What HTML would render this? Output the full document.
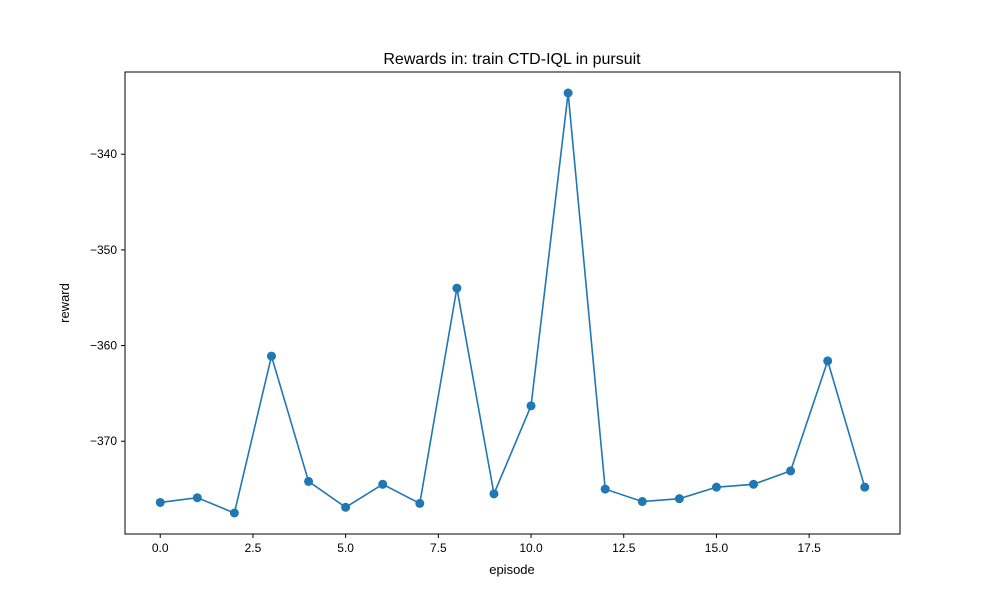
<!DOCTYPE html>
<html><head><meta charset="utf-8"><style>
body{margin:0;background:#fff}
svg text{font-family:"Liberation Sans","DejaVu Sans",sans-serif;fill:#000}
</style></head><body>
<svg id="chart" width="1000" height="600" xmlns="http://www.w3.org/2000/svg">
<rect width="1000" height="600" fill="#fff"/>
<text x="512" y="64" font-size="16" text-anchor="middle">Rewards in: train CTD-IQL in pursuit</text>
<g id="plot"></g>
<rect x="125" y="72" width="775" height="462" fill="none" stroke="#000" stroke-width="1"/>
<text x="512" y="574" font-size="13" text-anchor="middle">episode</text>
<text x="69" y="303" font-size="13" text-anchor="middle" transform="rotate(-90 69 303)">reward</text>
</svg>
<script>
const episodes=[0,1,2,3,4,5,6,7,8,9,10,11,12,13,14,15,16,17,18,19];
const rewards=[-376.4,-375.9,-377.5,-361.1,-374.2,-376.9,-374.5,-376.5,-354.0,-375.5,-366.3,-333.6,-375.0,-376.3,-376.0,-374.8,-374.5,-373.1,-361.6,-374.8];
const xTicks=[0,2.5,5,7.5,10,12.5,15,17.5];
const xTickLabels=["0.0","2.5","5.0","7.5","10.0","12.5","15.0","17.5"];
const yTicks=[-340,-350,-360,-370];
const yTickLabels=["\u2212340","\u2212350","\u2212360","\u2212370"];
const L=125,R=900,T=72,B=534;
const xmin=Math.min(...episodes),xmax=Math.max(...episodes),xm=(xmax-xmin)*0.05;
const ymin=Math.min(...rewards),ymax=Math.max(...rewards),ym=(ymax-ymin)*0.05;
const sx=v=>L+(v-(xmin-xm))/((xmax+xm)-(xmin-xm))*(R-L);
const sy=v=>B-(v-(ymin-ym))/((ymax+ym)-(ymin-ym))*(B-T);
const NS="http://www.w3.org/2000/svg";
const g=document.getElementById('plot');
function mk(t,a){const e=document.createElementNS(NS,t);for(const k in a)e.setAttribute(k,a[k]);g.appendChild(e);return e;}
xTicks.forEach((v,i)=>{
  const l=mk('line',{x1:sx(v),x2:sx(v),y1:B,y2:B+4,stroke:'#000'});
  
  
  const t=mk('text',{x:sx(v),y:B+18,'font-size':12,'text-anchor':'middle'});
  t.textContent=xTickLabels[i];
  
  
});
yTicks.forEach((v,i)=>{
  const l=mk('line',{x1:L-4,x2:L,y1:sy(v),y2:sy(v),stroke:'#000'});
  
  
  const t=mk('text',{x:L-8,y:sy(v)+4,'font-size':12,'text-anchor':'end'});
  t.textContent=yTickLabels[i];
  
  
});
const p=mk('polyline',{points:episodes.map((x,i)=>sx(x)+','+sy(rewards[i])).join(' '),fill:'none',stroke:'#1f77b4','stroke-width':1.6});


episodes.forEach((x,i)=>{
  const c=mk('circle',{cx:sx(x),cy:sy(rewards[i]),r:4.5,fill:'#1f77b4'});
  
  
});
</script>
</body></html>
